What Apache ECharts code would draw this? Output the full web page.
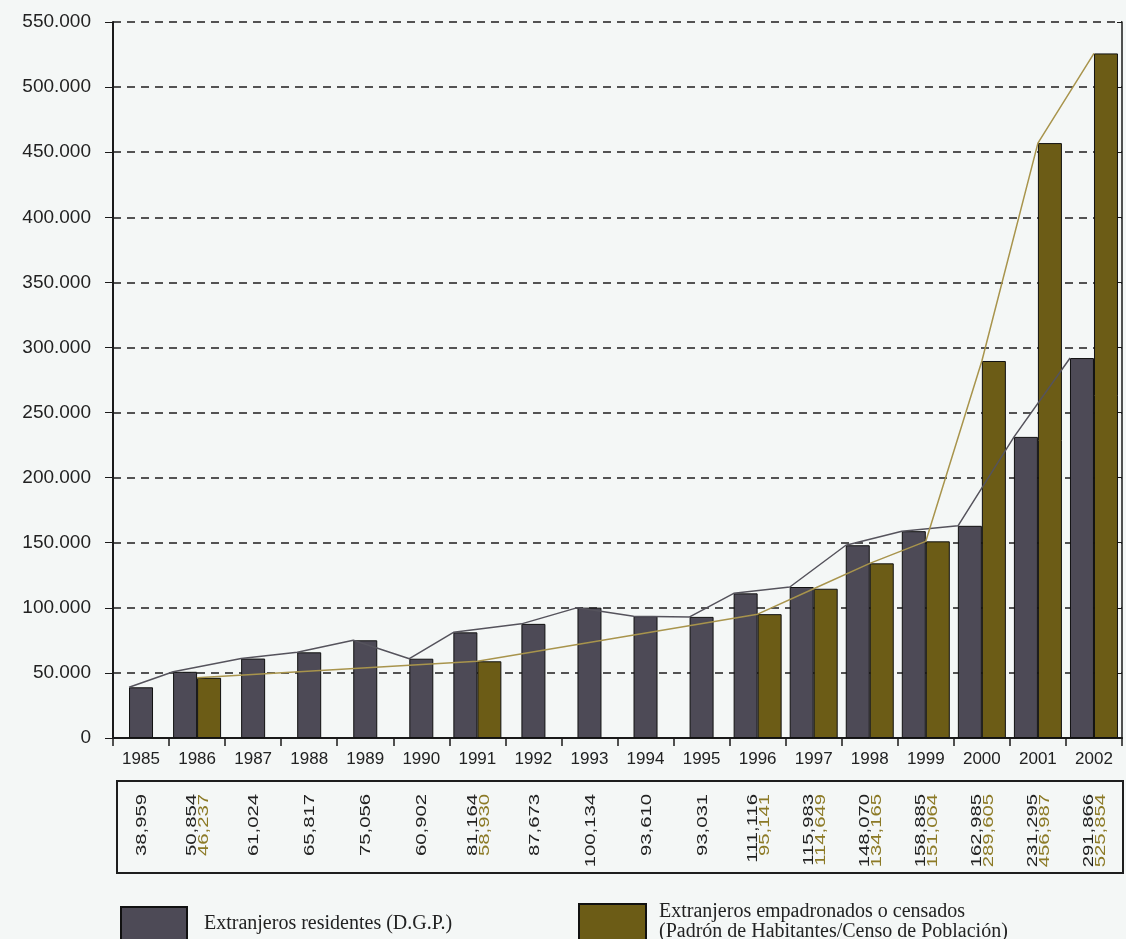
<!DOCTYPE html>
<html>
<head>
<meta charset="utf-8">
<script src="https://cdn.jsdelivr.net/npm/echarts@6/dist/echarts.min.js"></script>
<style>html,body{margin:0;padding:0;background:#f4f7f6;}#c{width:1126px;height:939px;}</style>
</head>
<body>
<div id="c"></div>
<script>
const years = ['1985','1986','1987','1988','1989','1990','1991','1992','1993','1994','1995','1996','1997','1998','1999','2000','2001','2002'];
const residentes = [38959, 50854, 61024, 65817, 75056, 60902, 81164, 87673, 100134, 93610, 93031, 111116, 115983, 148070, 158885, 162985, 231295, 291866];
const empadronados = [null, 46237, null, null, null, null, 58930, null, null, null, null, 95141, 114649, 134165, 151064, 289605, 456987, 525854];
const yTicks = [0, 50000, 100000, 150000, 200000, 250000, 300000, 350000, 400000, 450000, 500000, 550000];

const nameA = 'Extranjeros residentes (D.G.P.)';
const nameB = 'Extranjeros empadronados o censados (Padrón de Habitantes/Censo de Población)';

const DARK = '#4d4a56';
const OLIVE = '#6c5c16';

function dotFmt(v){ return String(v).replace(/\B(?=(\d{3})+(?!\d))/g, '.'); }
function commaFmt(v){ return String(v).replace(/\B(?=(\d{3})+(?!\d))/g, ','); }

const soloDark = residentes.map((v,i)=> empadronados[i]==null ? v : null);
const pairDark = residentes.map((v,i)=> empadronados[i]!=null ? v : null);
const darkLine = residentes.map((v,i)=> [i + (empadronados[i]==null ? -0.213 : -0.426), v]);
const oliveLine = empadronados.map((v,i)=> v==null ? null : [i, v]).filter(d=>d);

const chart = echarts.init(document.getElementById('c'));
const font = 'Liberation Sans, Arial, sans-serif';
const serif = 'Liberation Serif, Times New Roman, serif';

chart.setOption({
  backgroundColor: '#f4f7f6',
  animation: false,
  grid: { left: 113, right: 4, top: 22, bottom: 201, containLabel: false },
  xAxis: [
    { type: 'category', data: years, boundaryGap: true,
      axisLine: { onZero: false, lineStyle: { color: '#1a1a1a', width: 2 } },
      axisTick: { show: true, length: 8, lineStyle: { color: '#1a1a1a', width: 1.5 } },
      axisLabel: { color: '#222', fontSize: 17, fontFamily: font, margin: 13 } },
    { type: 'category', data: years, show: false },
    { type: 'value', min: -0.5, max: 17.5, show: false }
  ],
  yAxis: [
    { type: 'value', min: 0, max: 550000, interval: 50000,
      axisLine: { show: true, onZero: false, lineStyle: { color: '#1a1a1a', width: 2 } },
      axisTick: { show: true, length: 8, lineStyle: { color: '#1a1a1a', width: 1 } },
      axisLabel: { color: '#222', fontSize: 19, fontFamily: font, margin: 22, formatter: v => dotFmt(v) },
      splitLine: { show: true, lineStyle: { color: '#1e1e1e', width: 1.5, type: [8, 6] } } },
    { type: 'value', min: 0, max: 550000, interval: 50000, position: 'right',
      axisLine: { show: true, onZero: false, lineStyle: { color: '#1a1a1a', width: 1.5 } },
      axisTick: { show: true, inside: true, length: 5, lineStyle: { color: '#1a1a1a' } },
      axisLabel: { show: false }, splitLine: { show: false } }
  ],
  legend: [
    { data: [nameA], left: 120, top: 906, itemWidth: 66, itemHeight: 33, padding: 0, selectedMode: false,
      icon: 'rect',
      textStyle: { fontFamily: serif, fontSize: 20, color: '#222', padding: [0, 0, 0, 12] } },
    { data: [nameB], left: 578, top: 902, itemWidth: 67, itemHeight: 36, padding: 0, selectedMode: false,
      icon: 'rect',
      formatter: () => 'Extranjeros empadronados o censados\n(Padrón de Habitantes/Censo de Población)',
      textStyle: { fontFamily: serif, fontSize: 20, lineHeight: 20, color: '#222', padding: [0, 0, 0, 8] } }
  ],
  series: [
    { name: nameA, type: 'bar', xAxisIndex: 0, yAxisIndex: 0, data: soloDark, barWidth: 24,
      itemStyle: { color: DARK, borderColor: '#111', borderWidth: 1 } },
    { name: nameA, type: 'bar', xAxisIndex: 1, yAxisIndex: 0, data: pairDark, barWidth: 24, barGap: '0%',
      itemStyle: { color: DARK, borderColor: '#111', borderWidth: 1 } },
    { name: nameB, type: 'bar', xAxisIndex: 1, yAxisIndex: 0, data: empadronados, barWidth: 24, barGap: '0%',
      itemStyle: { color: OLIVE, borderColor: '#111', borderWidth: 1 } },
    { name: 'lineA', type: 'line', xAxisIndex: 2, yAxisIndex: 0, data: darkLine, symbol: 'none', z: 5,
      lineStyle: { color: '#55535c', width: 1.5 } },
    { name: 'lineB', type: 'line', xAxisIndex: 2, yAxisIndex: 0, data: oliveLine, symbol: 'none', z: 5,
      lineStyle: { color: '#a8944c', width: 1.5 } },
    { name: 'table', type: 'custom', xAxisIndex: 0, yAxisIndex: 0, clip: false, silent: true, z: 10,
      data: years.map((y,i)=> [i, residentes[i], empadronados[i]==null ? -1 : empadronados[i]]),
      renderItem: function(params, api){
        const i = api.value(0);
        const cx = api.coord([i, 0])[0];
        const a = api.value(1), b = api.value(2);
        const children = [];
        const top = 794;
        const mk = (txt, col, x) => ({ type: 'text', x: x, y: top, rotation: Math.PI/2, scaleX: 1.35, scaleY: 1,
          style: { text: txt, fill: col, font: '15px ' + font, align: 'right', verticalAlign: 'middle' } });
        if (b < 0) {
          children.push(mk(commaFmt(a), '#222', cx + 1));
        } else {
          children.push(mk(commaFmt(a), '#222', cx - 5));
          children.push(mk(commaFmt(b), '#8c7a26', cx + 7));
        }
        return { type: 'group', children: children };
      } }
  ],
  graphic: [
    { type: 'rect', shape: { x: 117, y: 781, width: 1006, height: 92 }, style: { fill: 'none', stroke: '#1e1e1e', lineWidth: 2 } }
  ]
});
</script>
</body>
</html>
